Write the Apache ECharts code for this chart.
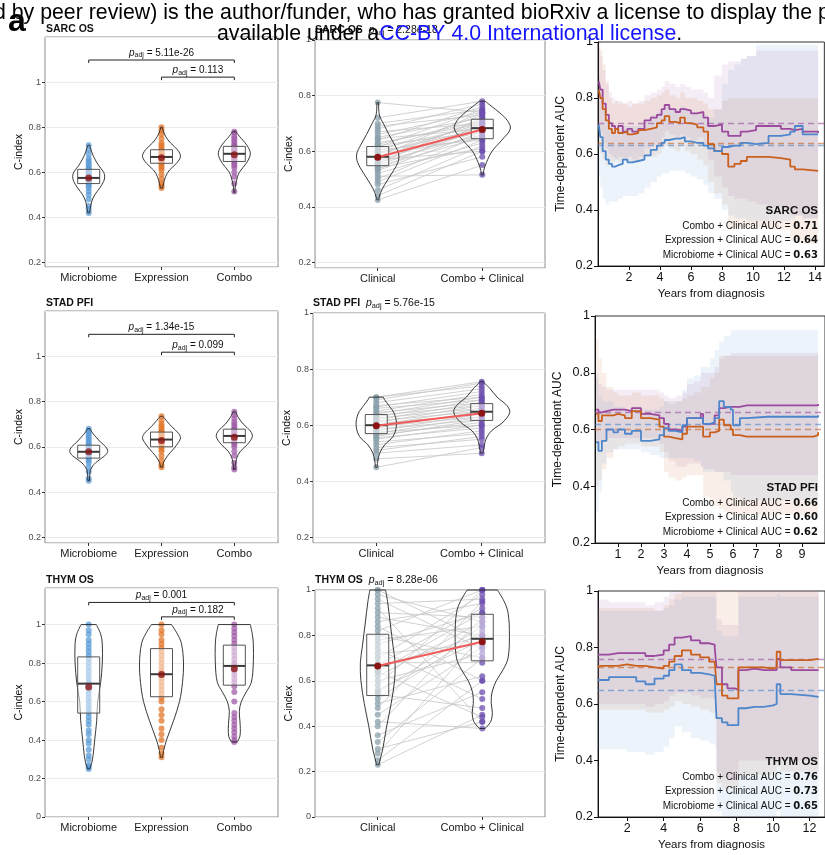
<!DOCTYPE html>
<html>
<head>
<meta charset="utf-8">
<script src="https://cdn.jsdelivr.net/npm/echarts@6.0.0/dist/echarts.min.js"></script>
<style>
html, body { margin: 0; padding: 0; background: #fff; }
#main { width: 825px; height: 855px; }
</style>
</head>
<body>
<div id="main"></div>
<script>
var FONT = '"Liberation Sans", Arial, sans-serif';

// ---- labels ----
var panelNames = ['SARC OS', 'STAD PFI', 'THYM OS'];
var leftCats = ['Microbiome', 'Expression', 'Combo'];
var midCats = ['Clinical', 'Combo + Clinical'];
var aucNames = ['Combo + Clinical AUC = ', 'Expression + Clinical AUC = ', 'Microbiome + Clinical AUC = '];

// ---- SARC OS : C-index per model ----
var sarcMicro = [0.42, 0.435, 0.45, 0.48, 0.5, 0.515, 0.53, 0.54, 0.55, 0.555, 0.56, 0.565, 0.57, 0.575, 0.575, 0.58, 0.585, 0.59, 0.595, 0.6, 0.605, 0.61, 0.615, 0.62, 0.63, 0.64, 0.65, 0.66, 0.68, 0.7, 0.72];
var sarcExpr = [0.53, 0.54, 0.55, 0.57, 0.59, 0.61, 0.62, 0.63, 0.64, 0.645, 0.65, 0.655, 0.66, 0.665, 0.67, 0.67, 0.675, 0.68, 0.685, 0.69, 0.695, 0.7, 0.71, 0.72, 0.73, 0.75, 0.77, 0.785, 0.8];
var sarcCombo = [0.515, 0.55, 0.58, 0.6, 0.62, 0.63, 0.64, 0.65, 0.655, 0.66, 0.665, 0.67, 0.675, 0.68, 0.685, 0.69, 0.695, 0.7, 0.705, 0.71, 0.715, 0.72, 0.73, 0.74, 0.75, 0.76, 0.775, 0.78];
var sarcMicroV = [[0.42, 0.05], [0.44, 0.08], [0.47, 0.15], [0.5, 0.3], [0.53, 0.55], [0.56, 0.75], [0.58, 0.8], [0.6, 0.75], [0.63, 0.5], [0.66, 0.3], [0.69, 0.15], [0.72, 0.05]];
var sarcExprV = [[0.53, 0.05], [0.55, 0.1], [0.58, 0.2], [0.61, 0.4], [0.64, 0.75], [0.67, 0.95], [0.7, 0.8], [0.73, 0.45], [0.76, 0.2], [0.79, 0.06], [0.8, 0.04]];
var sarcComboV = [[0.51, 0.03], [0.53, 0.04], [0.56, 0.1], [0.6, 0.25], [0.64, 0.6], [0.68, 0.8], [0.71, 0.7], [0.74, 0.45], [0.76, 0.25], [0.78, 0.08]];
var sarcBox = [[0.55, 0.575, 0.613], [0.64, 0.668, 0.7], [0.648, 0.682, 0.715]];
var sarcMean = [0.575, 0.665, 0.678];
var sarcP = ['5.11e-26', '0.113'];
var sarcBracketY = [1.098, 1.022];

// ---- SARC OS : paired clinical vs combo + clinical ----
var sarcClin = [0.425, 0.44, 0.46, 0.48, 0.49, 0.5, 0.51, 0.52, 0.53, 0.535, 0.54, 0.545, 0.55, 0.555, 0.56, 0.565, 0.57, 0.575, 0.58, 0.58, 0.585, 0.59, 0.595, 0.6, 0.605, 0.61, 0.615, 0.62, 0.625, 0.63, 0.64, 0.645, 0.65, 0.66, 0.67, 0.68, 0.69, 0.7, 0.72, 0.775];
var sarcCombClin = [0.55, 0.6, 0.62, 0.58, 0.64, 0.66, 0.515, 0.63, 0.67, 0.7, 0.61, 0.65, 0.68, 0.72, 0.66, 0.69, 0.6, 0.71, 0.67, 0.74, 0.65, 0.7, 0.68, 0.73, 0.64, 0.69, 0.75, 0.67, 0.71, 0.7, 0.76, 0.68, 0.72, 0.74, 0.7, 0.77, 0.73, 0.75, 0.78, 0.74];
var sarcClinV = [[0.425, 0.03], [0.45, 0.1], [0.48, 0.25], [0.52, 0.5], [0.56, 0.72], [0.59, 0.75], [0.62, 0.62], [0.66, 0.4], [0.7, 0.2], [0.73, 0.06], [0.775, 0.03]];
var sarcCombClinV = [[0.515, 0.04], [0.53, 0.05], [0.56, 0.15], [0.6, 0.35], [0.64, 0.7], [0.68, 1.0], [0.71, 0.9], [0.74, 0.6], [0.76, 0.35], [0.78, 0.1]];
var sarcMidBox = [[0.548, 0.58, 0.617], [0.645, 0.683, 0.715]];
var sarcMidMean = [0.578, 0.678];

// ---- STAD PFI ----
var stadMicro = [0.45, 0.46, 0.49, 0.51, 0.53, 0.54, 0.55, 0.555, 0.56, 0.565, 0.57, 0.575, 0.58, 0.585, 0.59, 0.595, 0.6, 0.605, 0.61, 0.62, 0.63, 0.64, 0.65, 0.66, 0.67, 0.68];
var stadExpr = [0.51, 0.52, 0.54, 0.56, 0.58, 0.59, 0.6, 0.61, 0.615, 0.62, 0.625, 0.63, 0.635, 0.64, 0.645, 0.65, 0.655, 0.66, 0.665, 0.67, 0.68, 0.69, 0.7, 0.715, 0.735];
var stadCombo = [0.5, 0.51, 0.53, 0.56, 0.58, 0.6, 0.61, 0.62, 0.625, 0.63, 0.635, 0.64, 0.645, 0.65, 0.655, 0.66, 0.665, 0.67, 0.675, 0.68, 0.69, 0.7, 0.71, 0.725, 0.74, 0.755];
var stadMicroV = [[0.45, 0.04], [0.47, 0.05], [0.5, 0.1], [0.53, 0.35], [0.56, 0.8], [0.58, 0.95], [0.6, 0.85], [0.62, 0.6], [0.64, 0.4], [0.66, 0.2], [0.68, 0.06]];
var stadExprV = [[0.51, 0.05], [0.53, 0.1], [0.56, 0.3], [0.59, 0.6], [0.62, 0.85], [0.64, 0.95], [0.66, 0.85], [0.69, 0.5], [0.71, 0.3], [0.735, 0.06]];
var stadComboV = [[0.5, 0.04], [0.52, 0.05], [0.55, 0.12], [0.58, 0.3], [0.61, 0.65], [0.645, 0.9], [0.67, 0.8], [0.7, 0.45], [0.73, 0.2], [0.755, 0.06]];
var stadBox = [[0.55, 0.578, 0.607], [0.6, 0.632, 0.665], [0.618, 0.648, 0.678]];
var stadMean = [0.578, 0.628, 0.642];
var stadP = ['1.34e-15', '0.099'];
var stadBracketY = [1.097, 1.018];

var stadClin = [0.45, 0.48, 0.5, 0.51, 0.52, 0.53, 0.54, 0.55, 0.555, 0.56, 0.565, 0.57, 0.575, 0.58, 0.585, 0.59, 0.595, 0.6, 0.605, 0.61, 0.615, 0.62, 0.625, 0.63, 0.635, 0.64, 0.645, 0.65, 0.66, 0.665, 0.67, 0.68, 0.69, 0.7, 0.7];
var stadCombClin = [0.52, 0.5, 0.53, 0.56, 0.55, 0.58, 0.57, 0.6, 0.59, 0.62, 0.61, 0.63, 0.6, 0.64, 0.62, 0.65, 0.63, 0.66, 0.64, 0.67, 0.65, 0.68, 0.66, 0.69, 0.67, 0.7, 0.68, 0.71, 0.69, 0.72, 0.7, 0.73, 0.75, 0.74, 0.755];
var stadClinV = [[0.45, 0.03], [0.47, 0.05], [0.5, 0.12], [0.53, 0.3], [0.56, 0.6], [0.6, 0.72], [0.64, 0.65], [0.67, 0.45], [0.69, 0.3], [0.7, 0.25]];
var stadCombClinV = [[0.5, 0.04], [0.52, 0.08], [0.55, 0.15], [0.58, 0.35], [0.61, 0.75], [0.645, 1.0], [0.67, 0.9], [0.7, 0.55], [0.73, 0.3], [0.755, 0.05]];
var stadMidBox = [[0.57, 0.6, 0.638], [0.617, 0.648, 0.677]];
var stadMidMean = [0.598, 0.643];

// ---- THYM OS ----
var thymMicro = [0.25, 0.26, 0.27, 0.3, 0.32, 0.35, 0.38, 0.4, 0.43, 0.45, 0.48, 0.5, 0.52, 0.54, 0.56, 0.58, 0.6, 0.62, 0.64, 0.66, 0.68, 0.69, 0.7, 0.72, 0.74, 0.76, 0.78, 0.8, 0.82, 0.84, 0.86, 0.88, 0.9, 0.92, 0.95, 0.97, 1.0];
var thymExpr = [0.31, 0.33, 0.36, 0.4, 0.43, 0.46, 0.5, 0.53, 0.56, 0.6, 0.62, 0.64, 0.66, 0.68, 0.7, 0.72, 0.74, 0.75, 0.76, 0.78, 0.8, 0.82, 0.84, 0.86, 0.88, 0.9, 0.92, 0.95, 0.97, 1.0];
var thymCombo = [0.39, 0.4, 0.42, 0.44, 0.46, 0.48, 0.5, 0.52, 0.54, 0.6, 0.65, 0.68, 0.7, 0.72, 0.74, 0.76, 0.78, 0.79, 0.8, 0.82, 0.84, 0.86, 0.88, 0.9, 0.92, 0.94, 0.96, 0.98, 1.0];
var thymMicroV = [[0.25, 0.05], [0.28, 0.15], [0.32, 0.22], [0.4, 0.3], [0.5, 0.4], [0.6, 0.45], [0.7, 0.6], [0.8, 0.68], [0.9, 0.68], [0.95, 0.6], [1.0, 0.38]];
var thymExprV = [[0.31, 0.05], [0.35, 0.12], [0.4, 0.25], [0.5, 0.6], [0.6, 0.9], [0.7, 1.05], [0.8, 1.1], [0.9, 1.0], [0.95, 0.8], [1.0, 0.5]];
var thymComboV = [[0.39, 0.15], [0.42, 0.28], [0.46, 0.3], [0.5, 0.28], [0.55, 0.25], [0.6, 0.35], [0.65, 0.6], [0.7, 0.85], [0.8, 0.95], [0.9, 0.95], [0.95, 0.9], [1.0, 0.8]];
var thymBox = [[0.54, 0.693, 0.832], [0.625, 0.742, 0.875], [0.685, 0.785, 0.893]];
var thymMean = [0.675, 0.74, 0.77];
var thymP = ['0.001', '0.182'];
var thymBracketY = [1.115, 1.04];

var thymClin = [0.23, 0.25, 0.28, 0.3, 0.33, 0.36, 0.4, 0.42, 0.45, 0.48, 0.5, 0.52, 0.54, 0.55, 0.56, 0.58, 0.6, 0.62, 0.64, 0.64, 0.66, 0.67, 0.68, 0.7, 0.72, 0.74, 0.76, 0.78, 0.8, 0.82, 0.84, 0.86, 0.88, 0.9, 0.92, 0.94, 0.96, 0.98, 1.0, 1.0];
var thymCombClin = [0.45, 0.6, 0.8, 0.42, 0.7, 0.55, 0.88, 0.39, 0.75, 0.95, 0.62, 0.82, 0.48, 0.84, 0.78, 1.0, 0.72, 0.86, 0.44, 0.9, 0.8, 0.92, 0.68, 0.98, 0.76, 0.52, 0.9, 0.84, 0.7, 1.0, 0.6, 0.94, 0.8, 0.88, 0.42, 0.96, 0.74, 0.86, 1.0, 0.78];
var thymClinV = [[0.23, 0.04], [0.26, 0.1], [0.3, 0.18], [0.4, 0.32], [0.5, 0.48], [0.6, 0.6], [0.68, 0.62], [0.75, 0.55], [0.85, 0.45], [0.95, 0.35], [1.0, 0.28]];
var thymCombClinV = [[0.39, 0.1], [0.42, 0.3], [0.46, 0.36], [0.5, 0.32], [0.55, 0.35], [0.6, 0.5], [0.65, 0.75], [0.7, 0.92], [0.8, 0.97], [0.9, 0.92], [0.95, 0.78], [1.0, 0.54]];
var thymMidBox = [[0.535, 0.668, 0.805], [0.688, 0.785, 0.893]];
var thymMidMean = [0.665, 0.772];

var midP = ['2.28e-18', '5.76e-15', '8.28e-06'];

// ---- time-dependent AUC (order: combo, expression, microbiome) ----
var sarcT = [0.05, 0.15, 0.3, 0.5, 0.7, 0.9, 1.1, 1.3, 1.6, 1.9, 2.2, 2.6, 3.0, 3.4, 3.8, 4.1, 4.3, 4.6, 5.0, 5.3, 5.6, 6.0, 6.4, 6.8, 7.1, 7.5, 8.0, 8.4, 8.8, 9.2, 9.6, 10.2, 11.0, 11.8, 12.4, 12.7, 13.2, 14.2];
var sarcComboAuc = [0.86, 0.83, 0.78, 0.74, 0.71, 0.70, 0.69, 0.70, 0.68, 0.69, 0.68, 0.69, 0.72, 0.73, 0.74, 0.76, 0.775, 0.76, 0.75, 0.76, 0.755, 0.745, 0.75, 0.73, 0.70, 0.705, 0.68, 0.665, 0.665, 0.68, 0.685, 0.70, 0.70, 0.69, 0.685, 0.69, 0.68, 0.675];
var sarcExprAuc = [0.83, 0.80, 0.76, 0.72, 0.69, 0.675, 0.69, 0.675, 0.68, 0.67, 0.675, 0.685, 0.69, 0.695, 0.71, 0.72, 0.735, 0.715, 0.71, 0.73, 0.71, 0.705, 0.695, 0.68, 0.635, 0.61, 0.60, 0.555, 0.565, 0.575, 0.59, 0.59, 0.585, 0.58, 0.555, 0.545, 0.54, 0.54];
var sarcMicroAuc = [0.705, 0.66, 0.61, 0.58, 0.565, 0.555, 0.56, 0.565, 0.58, 0.57, 0.575, 0.58, 0.595, 0.615, 0.63, 0.64, 0.65, 0.655, 0.655, 0.66, 0.645, 0.64, 0.64, 0.63, 0.62, 0.61, 0.625, 0.63, 0.63, 0.64, 0.635, 0.64, 0.665, 0.67, 0.68, 0.70, 0.67, 0.67];
var sarcComboHi = [0.98, 0.95, 0.90, 0.85, 0.82, 0.80, 0.79, 0.79, 0.78, 0.79, 0.78, 0.79, 0.81, 0.82, 0.83, 0.84, 0.86, 0.85, 0.84, 0.85, 0.84, 0.83, 0.83, 0.82, 0.80, 0.88, 0.92, 0.93, 0.93, 0.94, 0.95, 0.97, 0.97, 0.97, 0.97, 0.97, 0.97, 0.97];
var sarcComboLo = [0.70, 0.68, 0.64, 0.62, 0.60, 0.59, 0.58, 0.59, 0.58, 0.59, 0.58, 0.59, 0.62, 0.63, 0.64, 0.66, 0.68, 0.67, 0.66, 0.67, 0.66, 0.65, 0.66, 0.63, 0.58, 0.52, 0.48, 0.45, 0.44, 0.44, 0.43, 0.42, 0.41, 0.40, 0.38, 0.38, 0.37, 0.37];
var sarcExprHi = [1.0, 0.97, 0.92, 0.86, 0.80, 0.78, 0.79, 0.78, 0.78, 0.77, 0.78, 0.78, 0.79, 0.80, 0.81, 0.82, 0.83, 0.81, 0.80, 0.82, 0.80, 0.80, 0.79, 0.78, 0.76, 0.76, 0.79, 0.80, 0.80, 0.80, 0.80, 0.80, 0.80, 0.80, 0.80, 0.80, 0.80, 0.80];
var sarcExprLo = [0.62, 0.60, 0.58, 0.56, 0.57, 0.57, 0.58, 0.57, 0.58, 0.57, 0.57, 0.58, 0.59, 0.59, 0.60, 0.62, 0.63, 0.62, 0.61, 0.63, 0.61, 0.60, 0.58, 0.56, 0.50, 0.46, 0.42, 0.33, 0.34, 0.34, 0.34, 0.34, 0.33, 0.33, 0.29, 0.29, 0.28, 0.28];
var sarcMicroHi = [0.88, 0.82, 0.76, 0.72, 0.70, 0.69, 0.69, 0.69, 0.70, 0.70, 0.70, 0.71, 0.72, 0.74, 0.75, 0.76, 0.77, 0.76, 0.76, 0.77, 0.76, 0.75, 0.74, 0.74, 0.73, 0.76, 0.85, 0.90, 0.92, 0.94, 0.95, 0.99, 0.99, 0.99, 0.99, 0.99, 0.99, 0.99];
var sarcMicroLo = [0.52, 0.48, 0.44, 0.42, 0.43, 0.43, 0.43, 0.44, 0.45, 0.45, 0.45, 0.46, 0.48, 0.50, 0.52, 0.53, 0.53, 0.54, 0.54, 0.54, 0.53, 0.52, 0.51, 0.49, 0.46, 0.44, 0.40, 0.38, 0.37, 0.37, 0.36, 0.36, 0.36, 0.36, 0.37, 0.38, 0.37, 0.37];

var stadT = [0.05, 0.15, 0.3, 0.5, 0.8, 1.0, 1.3, 1.6, 2.0, 2.4, 2.8, 3.0, 3.2, 3.5, 3.8, 4.0, 4.3, 4.6, 4.7, 5.0, 5.2, 5.4, 5.6, 5.9, 6.0, 6.3, 6.6, 7.5, 8.5, 9.5, 9.7];
var stadComboAuc = [0.67, 0.66, 0.665, 0.67, 0.67, 0.67, 0.665, 0.675, 0.655, 0.65, 0.64, 0.62, 0.60, 0.595, 0.61, 0.64, 0.64, 0.655, 0.62, 0.62, 0.65, 0.675, 0.68, 0.68, 0.68, 0.685, 0.685, 0.685, 0.685, 0.685, 0.69];
var stadExprAuc = [0.655, 0.63, 0.65, 0.65, 0.655, 0.65, 0.64, 0.665, 0.64, 0.635, 0.61, 0.575, 0.57, 0.565, 0.585, 0.61, 0.61, 0.61, 0.575, 0.59, 0.595, 0.635, 0.615, 0.60, 0.58, 0.575, 0.575, 0.575, 0.575, 0.58, 0.59];
var stadMicroAuc = [0.555, 0.525, 0.56, 0.60, 0.59, 0.60, 0.585, 0.595, 0.56, 0.565, 0.58, 0.605, 0.595, 0.59, 0.615, 0.64, 0.64, 0.64, 0.62, 0.625, 0.64, 0.70, 0.68, 0.67, 0.615, 0.64, 0.645, 0.645, 0.645, 0.645, 0.65];
var stadComboHi = [0.78, 0.76, 0.75, 0.74, 0.74, 0.74, 0.74, 0.74, 0.74, 0.74, 0.73, 0.72, 0.71, 0.72, 0.73, 0.76, 0.77, 0.80, 0.80, 0.80, 0.82, 0.85, 0.86, 0.87, 0.87, 0.87, 0.87, 0.87, 0.87, 0.87, 0.87];
var stadComboLo = [0.55, 0.55, 0.56, 0.57, 0.57, 0.57, 0.57, 0.57, 0.57, 0.57, 0.55, 0.52, 0.49, 0.47, 0.47, 0.48, 0.48, 0.47, 0.46, 0.46, 0.45, 0.45, 0.45, 0.44, 0.44, 0.44, 0.44, 0.44, 0.44, 0.44, 0.44];
var stadExprHi = [0.92, 0.85, 0.80, 0.75, 0.73, 0.72, 0.72, 0.73, 0.72, 0.72, 0.71, 0.70, 0.69, 0.70, 0.71, 0.72, 0.73, 0.75, 0.75, 0.78, 0.80, 0.86, 0.86, 0.86, 0.86, 0.86, 0.86, 0.86, 0.86, 0.86, 0.86];
var stadExprLo = [0.40, 0.42, 0.46, 0.50, 0.53, 0.54, 0.55, 0.55, 0.54, 0.54, 0.52, 0.45, 0.43, 0.42, 0.43, 0.44, 0.44, 0.44, 0.36, 0.34, 0.33, 0.32, 0.31, 0.30, 0.30, 0.30, 0.30, 0.30, 0.30, 0.30, 0.30];
var stadMicroHi = [0.80, 0.72, 0.70, 0.70, 0.68, 0.68, 0.67, 0.68, 0.67, 0.67, 0.68, 0.70, 0.70, 0.70, 0.74, 0.78, 0.79, 0.82, 0.82, 0.85, 0.88, 0.91, 0.93, 0.95, 0.95, 0.95, 0.95, 0.95, 0.95, 0.95, 0.95];
var stadMicroLo = [0.31, 0.38, 0.48, 0.52, 0.53, 0.53, 0.53, 0.53, 0.52, 0.51, 0.50, 0.50, 0.50, 0.50, 0.50, 0.50, 0.49, 0.47, 0.45, 0.45, 0.45, 0.45, 0.42, 0.38, 0.36, 0.35, 0.35, 0.35, 0.35, 0.35, 0.35];

var thymT = [0.4, 1.0, 1.5, 2.0, 2.5, 3.0, 3.5, 4.0, 4.3, 4.6, 5.0, 5.5, 6.0, 6.5, 6.8, 6.9, 7.2, 7.5, 7.9, 8.1, 8.5, 9.0, 9.5, 10.0, 10.2, 10.4, 11.0, 12.0, 12.5];
var thymComboAuc = [0.775, 0.78, 0.78, 0.78, 0.78, 0.77, 0.775, 0.79, 0.81, 0.835, 0.84, 0.825, 0.815, 0.81, 0.80, 0.73, 0.67, 0.655, 0.65, 0.72, 0.725, 0.72, 0.72, 0.72, 0.76, 0.73, 0.72, 0.72, 0.72];
var thymExprAuc = [0.735, 0.735, 0.74, 0.735, 0.735, 0.73, 0.725, 0.735, 0.75, 0.77, 0.79, 0.775, 0.765, 0.75, 0.745, 0.67, 0.63, 0.62, 0.62, 0.73, 0.73, 0.73, 0.725, 0.73, 0.785, 0.755, 0.755, 0.76, 0.76];
var thymMicroAuc = [0.685, 0.695, 0.695, 0.695, 0.68, 0.67, 0.69, 0.70, 0.72, 0.74, 0.72, 0.71, 0.705, 0.70, 0.69, 0.55, 0.535, 0.525, 0.525, 0.585, 0.59, 0.59, 0.595, 0.60, 0.67, 0.635, 0.63, 0.625, 0.625];
var thymComboHi = [0.97, 0.96, 0.96, 0.96, 0.96, 0.95, 0.96, 0.98, 1.0, 1.0, 1.0, 1.0, 1.0, 1.0, 1.0, 0.90, 0.88, 0.88, 0.88, 1.0, 1.0, 1.0, 1.0, 1.0, 1.0, 1.0, 1.0, 1.0, 1.0];
var thymComboLo = [0.60, 0.60, 0.60, 0.60, 0.60, 0.59, 0.60, 0.61, 0.63, 0.64, 0.64, 0.63, 0.62, 0.62, 0.61, 0.36, 0.34, 0.33, 0.33, 0.40, 0.40, 0.40, 0.40, 0.40, 0.40, 0.40, 0.40, 0.40, 0.40];
var thymExprHi = [0.94, 0.94, 0.94, 0.94, 0.94, 0.94, 0.93, 0.95, 0.97, 0.99, 1.0, 1.0, 1.0, 1.0, 1.0, 1.0, 1.0, 1.0, 1.0, 1.0, 1.0, 1.0, 1.0, 1.0, 1.0, 1.0, 1.0, 1.0, 1.0];
var thymExprLo = [0.58, 0.58, 0.58, 0.58, 0.58, 0.57, 0.57, 0.58, 0.59, 0.61, 0.60, 0.59, 0.58, 0.57, 0.55, 0.32, 0.30, 0.30, 0.30, 0.35, 0.35, 0.35, 0.35, 0.35, 0.38, 0.36, 0.36, 0.36, 0.36];
var thymMicroHi = [0.93, 0.93, 0.93, 0.93, 0.93, 0.93, 0.93, 0.94, 0.95, 0.97, 0.98, 0.98, 0.98, 0.98, 0.97, 0.86, 0.84, 0.84, 0.84, 0.98, 0.98, 0.98, 0.98, 0.98, 0.99, 0.98, 0.98, 0.98, 0.98];
var thymMicroLo = [0.44, 0.44, 0.44, 0.43, 0.43, 0.42, 0.43, 0.45, 0.48, 0.52, 0.50, 0.48, 0.47, 0.46, 0.45, 0.22, 0.20, 0.20, 0.20, 0.20, 0.20, 0.20, 0.20, 0.20, 0.22, 0.20, 0.20, 0.20, 0.20];

var aucSummary = [[0.71, 0.64, 0.63], [0.66, 0.60, 0.62], [0.76, 0.73, 0.65]];

// grouping per row
var leftPoints = [[sarcMicro, sarcExpr, sarcCombo], [stadMicro, stadExpr, stadCombo], [thymMicro, thymExpr, thymCombo]];
var leftViolins = [[sarcMicroV, sarcExprV, sarcComboV], [stadMicroV, stadExprV, stadComboV], [thymMicroV, thymExprV, thymComboV]];
var leftBoxes = [sarcBox, stadBox, thymBox];
var leftMeans = [sarcMean, stadMean, thymMean];
var leftP = [sarcP, stadP, thymP];
var leftBracketY = [sarcBracketY, stadBracketY, thymBracketY];
var midPairs = [[sarcClin, sarcCombClin], [stadClin, stadCombClin], [thymClin, thymCombClin]];
var midViolins = [[sarcClinV, sarcCombClinV], [stadClinV, stadCombClinV], [thymClinV, thymCombClinV]];
var midBoxes = [sarcMidBox, stadMidBox, thymMidBox];
var midMeans = [sarcMidMean, stadMidMean, thymMidMean];
var rocT = [sarcT, stadT, thymT];
var rocAuc = [[sarcComboAuc, sarcExprAuc, sarcMicroAuc], [stadComboAuc, stadExprAuc, stadMicroAuc], [thymComboAuc, thymExprAuc, thymMicroAuc]];
var rocLo = [[sarcComboLo, sarcExprLo, sarcMicroLo], [stadComboLo, stadExprLo, stadMicroLo], [thymComboLo, thymExprLo, thymMicroLo]];
var rocHi = [[sarcComboHi, sarcExprHi, sarcMicroHi], [stadComboHi, stadExprHi, stadMicroHi], [thymComboHi, thymExprHi, thymMicroHi]];

// layout [left, top, width, height] and axis ranges
var layoutLeft = [[45, 37, 233, 230], [45, 311, 233, 232], [45, 588, 233, 229]];
var layoutMid = [[315, 40, 230, 228], [313, 313, 232, 230], [315, 590, 230, 227]];
var layoutRight = [[598, 42, 234, 224], [595, 316, 236, 227], [598, 591, 234, 226]];
var leftY = [[0.18, 1.2], [0.175, 1.2], [0, 1.19]];
var midY = [[0.18, 1.0], [0.18, 1.0], [0, 1.0]];
var rightX = [[0, 14.6, 2], [0, 10, 1], [0.4, 12.85, null]];

var leftColors = ['#5b9bd5', '#e0762a', '#a05ca8'];
var midColors = ['#8aa0ab', '#6c4fae'];
var rocColors = ['#9b4a9e', '#c9601e', '#4e86cc'];

function richP(size) {
  return {
    b: { fontWeight: 'bold', fontSize: size, fontFamily: FONT, fill: '#111' },
    p: { fontStyle: 'italic', fontSize: size, fontFamily: FONT, fill: '#111' },
    s: { fontSize: size * 0.7, fontFamily: FONT, fill: '#111', verticalAlign: 'bottom', padding: [5, 0, 0, 0] },
    t: { fontSize: size, fontFamily: FONT, fill: '#111' }
  };
}

function gridOf(l, border) {
  return { left: l[0], top: l[1], width: l[2], height: l[3], show: true, borderColor: border, borderWidth: 1, backgroundColor: 'transparent' };
}

function catAxis(g, cats) {
  var ticks = cats.map(function (c, i) { return i + 1; });
  return {
    type: 'value', gridIndex: g, min: 0.4, max: cats.length + 0.6,
    axisLine: { show: false, onZero: false },
    splitLine: { show: false },
    axisTick: { show: true, customValues: ticks, length: 3, lineStyle: { color: '#333' } },
    axisLabel: { customValues: ticks, margin: 5, fontSize: 11, color: '#1a1a1a', fontFamily: FONT,
      formatter: function (v) { return cats[Math.round(v) - 1] || ''; } }
  };
}

function cAxis(g, rng) {
  return {
    type: 'value', gridIndex: g, min: rng[0], max: rng[1],
    name: 'C-index', nameLocation: 'middle', nameGap: 19,
    nameTextStyle: { fontSize: 10.5, color: '#111', fontFamily: FONT },
    axisLine: { show: false, onZero: false },
    axisTick: { show: true, length: 3, lineStyle: { color: '#333' } },
    axisLabel: { fontSize: 9, color: '#4d4d4d', margin: 4, fontFamily: FONT, showMinLabel: rng[0] === 0, showMaxLabel: rng[1] === 1 },
    splitLine: { show: true, lineStyle: { color: '#ebebeb', width: 1 } }
  };
}

function timeAxis(g, rx) {
  var ax = {
    type: 'value', gridIndex: g, min: rx[0], max: rx[1],
    name: 'Years from diagnosis', nameLocation: 'middle', nameGap: 22,
    nameTextStyle: { fontSize: 11.5, color: '#111', fontFamily: FONT },
    axisLine: { show: true, onZero: false, lineStyle: { color: '#111', width: 1 } },
    axisTick: { show: true, length: 4, lineStyle: { color: '#111' } },
    axisLabel: { fontSize: 12.5, color: '#111', margin: 5, fontFamily: FONT, showMinLabel: false, showMaxLabel: false },
    splitLine: { show: false }
  };
  if (rx[2]) ax.interval = rx[2];
  return ax;
}

function aucAxis(g) {
  return {
    type: 'value', gridIndex: g, min: 0.2, max: 1, interval: 0.2,
    name: 'Time-dependent AUC', nameLocation: 'middle', nameGap: 31,
    nameTextStyle: { fontSize: 12, color: '#111', fontFamily: FONT },
    axisLine: { show: true, onZero: false, lineStyle: { color: '#111', width: 1 } },
    axisTick: { show: true, length: 4, lineStyle: { color: '#111' } },
    axisLabel: { fontSize: 12.5, color: '#111', margin: 5, fontFamily: FONT },
    splitLine: { show: false }
  };
}

// violin outline from density profile, half width = density * scale px
function violinSeries(g, profiles, scale) {
  return {
    type: 'custom', xAxisIndex: g, yAxisIndex: g, z: 3, silent: true,
    data: profiles.map(function (p, i) { return [i + 1, p[0][0]]; }),
    renderItem: function (params, api) {
      var prof = profiles[params.dataIndex];
      var x = params.dataIndex + 1;
      var right = [], left = [];
      prof.forEach(function (d) {
        var c = api.coord([x, d[0]]);
        right.push([c[0] + d[1] * scale, c[1]]);
        left.push([c[0] - d[1] * scale, c[1]]);
      });
      var st = { stroke: '#222', lineWidth: 0.9, fill: 'none' };
      var n = right.length - 1;
      return { type: 'group', children: [
        { type: 'polyline', shape: { points: right, smooth: 0.35 }, style: st },
        { type: 'polyline', shape: { points: left, smooth: 0.35 }, style: st },
        { type: 'line', shape: { x1: left[0][0], y1: left[0][1], x2: right[0][0], y2: right[0][1] }, style: st },
        { type: 'line', shape: { x1: left[n][0], y1: left[n][1], x2: right[n][0], y2: right[n][1] }, style: st }
      ] };
    }
  };
}

function boxSeries(g, boxes) {
  var hw = 11;
  return {
    type: 'custom', xAxisIndex: g, yAxisIndex: g, z: 4, silent: true,
    data: boxes.map(function (b, i) { return [i + 1, b[0], b[1], b[2]]; }),
    renderItem: function (params, api) {
      var x = api.value(0);
      var lo = api.coord([x, api.value(1)]);
      var md = api.coord([x, api.value(2)]);
      var hi = api.coord([x, api.value(3)]);
      return { type: 'group', children: [
        { type: 'rect', shape: { x: lo[0] - hw, y: hi[1], width: 2 * hw, height: lo[1] - hi[1] },
          style: { fill: 'rgba(255,255,255,0.5)', stroke: '#555', lineWidth: 1 } },
        { type: 'line', shape: { x1: md[0] - hw, y1: md[1], x2: md[0] + hw, y2: md[1] },
          style: { stroke: '#3a3a3a', lineWidth: 2 } }
      ] };
    }
  };
}

function pointSeries(g, values, x, color) {
  return {
    type: 'scatter', xAxisIndex: g, yAxisIndex: g, z: 2, silent: true, symbolSize: 6,
    itemStyle: { color: color, opacity: 0.75 },
    data: values.map(function (v) { return [x, v]; })
  };
}

function bracketSeries(g, ys, labels) {
  var ends = [[1, 3], [2, 3]];
  return {
    type: 'custom', xAxisIndex: g, yAxisIndex: g, z: 5, silent: true,
    data: ys.map(function (y, i) { return [ends[i][0], ends[i][1], y]; }),
    renderItem: function (params, api) {
      var a = api.coord([api.value(0), api.value(2)]);
      var b = api.coord([api.value(1), api.value(2)]);
      return { type: 'group', children: [
        { type: 'polyline', shape: { points: [[a[0], a[1] + 3], [a[0], a[1]], [b[0], b[1]], [b[0], b[1] + 3]] },
          style: { stroke: '#222', fill: 'none', lineWidth: 1 } },
        { type: 'text', x: (a[0] + b[0]) / 2, y: a[1] - 1,
          style: { text: '{p|p}{s|adj}{t| = ' + labels[params.dataIndex] + '}', rich: richP(10),
            align: 'center', textAlign: 'center', verticalAlign: 'bottom', textVerticalAlign: 'bottom' } }
      ] };
    }
  };
}

function pairSeries(g, a, b) {
  return {
    type: 'custom', xAxisIndex: g, yAxisIndex: g, z: 1, silent: true,
    data: a.map(function (v, i) { return [v, b[i]]; }),
    renderItem: function (params, api) {
      var p1 = api.coord([1, api.value(0)]);
      var p2 = api.coord([2, api.value(1)]);
      return { type: 'line', shape: { x1: p1[0], y1: p1[1], x2: p2[0], y2: p2[1] },
        style: { stroke: '#c6c6c6', lineWidth: 0.8 } };
    }
  };
}

function bandSeries(g, t, lo, hi, color) {
  return {
    type: 'custom', xAxisIndex: g, yAxisIndex: g, z: 1, silent: true, clip: true,
    data: [[t[0], lo[0]]],
    renderItem: function (params, api) {
      var up = [], dn = [];
      for (var i = 0; i < t.length; i++) {
        var t2 = i < t.length - 1 ? t[i + 1] : t[i];
        up.push(api.coord([t[i], hi[i]]), api.coord([t2, hi[i]]));
        dn.push(api.coord([t[i], lo[i]]), api.coord([t2, lo[i]]));
      }
      return { type: 'polygon', shape: { points: up.concat(dn.reverse()) },
        style: { fill: color, opacity: 0.1 } };
    }
  };
}

var grids = [], xAxes = [], yAxes = [], series = [], graphics = [];

for (var r = 0; r < 3; r++) {
  var gL = 3 * r, gM = 3 * r + 1, gR = 3 * r + 2;
  var L = layoutLeft[r], M = layoutMid[r], R = layoutRight[r];
  grids.push(gridOf(L, '#8c8c8c'), gridOf(M, '#8c8c8c'), gridOf(R, '#333'));
  xAxes.push(catAxis(gL, leftCats), catAxis(gM, midCats), timeAxis(gR, rightX[r]));
  yAxes.push(cAxis(gL, leftY[r]), cAxis(gM, midY[r]), aucAxis(gR));

  // left: three models
  for (var k = 0; k < 3; k++) series.push(pointSeries(gL, leftPoints[r][k], k + 1, leftColors[k]));
  series.push(violinSeries(gL, leftViolins[r], 20));
  series.push(boxSeries(gL, leftBoxes[r]));
  series.push({
    type: 'scatter', xAxisIndex: gL, yAxisIndex: gL, z: 6, silent: true, symbolSize: 7,
    itemStyle: { color: '#8b1515' },
    data: leftMeans[r].map(function (m, i) { return [i + 1, m]; })
  });
  series.push(bracketSeries(gL, leftBracketY[r], leftP[r]));

  // middle: paired clinical vs combo + clinical
  series.push(pairSeries(gM, midPairs[r][0], midPairs[r][1]));
  for (var k2 = 0; k2 < 2; k2++) series.push(pointSeries(gM, midPairs[r][k2], k2 + 1, midColors[k2]));
  series.push(violinSeries(gM, midViolins[r], 28));
  series.push(boxSeries(gM, midBoxes[r]));
  series.push({
    type: 'line', xAxisIndex: gM, yAxisIndex: gM, z: 6, silent: true,
    symbol: 'circle', symbolSize: 7, showSymbol: true,
    lineStyle: { color: '#f05a5a', width: 2 }, itemStyle: { color: '#8b1515' },
    data: midMeans[r].map(function (m, i) { return [i + 1, m]; })
  });

  // right: time-dependent AUC
  for (var k3 = 0; k3 < 3; k3++) series.push(bandSeries(gR, rocT[r], rocLo[r][k3], rocHi[r][k3], rocColors[k3]));
  for (var k4 = 0; k4 < 3; k4++) {
    (function (k) {
      series.push({
        type: 'line', xAxisIndex: gR, yAxisIndex: gR, z: 5, silent: true,
        step: 'end', showSymbol: false, symbol: 'none',
        lineStyle: { color: rocColors[k], width: 1.8 }, itemStyle: { color: rocColors[k] },
        data: rocT[r].map(function (t, i) { return [t, rocAuc[r][k][i]]; }),
        markLine: {
          silent: true, symbol: ['none', 'none'], label: { show: false },
          lineStyle: { color: rocColors[k], type: [6, 4], width: 1.3, opacity: 0.6 },
          data: [{ yAxis: aucSummary[r][k] }]
        }
      });
    })(k4);
  }

  // titles
  graphics.push({ type: 'text', x: L[0] + 1, y: L[1] - 8, z: 50,
    style: { text: panelNames[r], fontSize: 10.5, fontWeight: 'bold', fontFamily: FONT, fill: '#111',
      verticalAlign: 'middle', textVerticalAlign: 'middle' } });
  graphics.push({ type: 'text', x: M[0], y: M[1] - 10, z: 50,
    style: { text: '{b|' + panelNames[r] + '}{t|  }{p|p}{s|adj}{t| = ' + midP[r] + '}', rich: richP(10.5),
      verticalAlign: 'middle', textVerticalAlign: 'middle' } });

  // AUC legend
  var bottom = R[1] + R[3];
  var xr = 818;
  graphics.push({ type: 'text', x: xr, y: bottom - 55, z: 50,
    style: { text: panelNames[r], fontSize: 11.5, fontWeight: 'bold', fontFamily: FONT, fill: '#111',
      align: 'right', textAlign: 'right', verticalAlign: 'middle', textVerticalAlign: 'middle' } });
  for (var j = 0; j < 3; j++) {
    graphics.push({ type: 'text', x: xr, y: bottom - 40 + j * 14.5, z: 50,
      style: { text: '{n|' + aucNames[j] + '}{v|' + aucSummary[r][j].toFixed(2) + '}',
        rich: { n: { fontSize: 10, fontFamily: FONT, fill: '#111' },
                v: { fontSize: 10, fontWeight: 'bold', fontFamily: '"DejaVu Sans", sans-serif', fill: '#111' } },
        align: 'right', textAlign: 'right', verticalAlign: 'middle', textVerticalAlign: 'middle' } });
  }
}

// preprint header lines and panel letter
graphics.push({ type: 'text', x: -6, y: 13, z: 100,
  style: { text: 'd by peer review) is the author/funder, who has granted bioRxiv a license to display the preprint in perpetuity.',
    fontSize: 21.3, fontFamily: FONT, fill: '#000', verticalAlign: 'middle', textVerticalAlign: 'middle' } });
graphics.push({ type: 'text', x: 217, y: 34, z: 100,
  style: { text: '{k|available under a}{u|CC-BY 4.0 International license}{k|.}',
    rich: { k: { fontSize: 21.3, fontFamily: FONT, fill: '#000' }, u: { fontSize: 21.3, fontFamily: FONT, fill: '#1414ff' } },
    verticalAlign: 'middle', textVerticalAlign: 'middle' } });
graphics.push({ type: 'text', x: 8, y: 22, z: 100,
  style: { text: 'a', fontSize: 32, fontWeight: 'bold', fontFamily: FONT, fill: '#000',
    verticalAlign: 'middle', textVerticalAlign: 'middle' } });

var chart = echarts.init(document.getElementById('main'), null, { renderer: 'canvas' });
chart.setOption({
  animation: false,
  backgroundColor: '#fff',
  grid: grids,
  xAxis: xAxes,
  yAxis: yAxes,
  series: series,
  graphic: graphics
});
</script>
</body>
</html>
